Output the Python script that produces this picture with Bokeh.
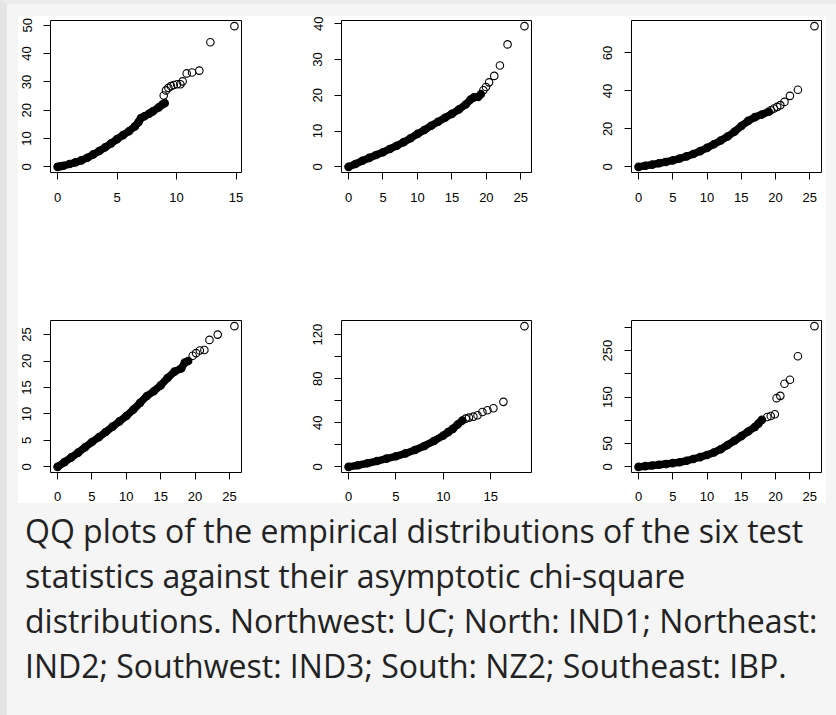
from bokeh.plotting import figure
from bokeh.models import Range1d, FixedTicker, Div, Spacer, GlobalInlineStyleSheet
from bokeh.layouts import row, column
from bokeh.embed import file_html
from bokeh.resources import INLINE

# ---------------- data ----------------
# Northwest: UC
uc_band_x = [0, 0.25, 0.5, 1, 1.5, 2, 2.5, 3, 3.5, 4, 4.5, 5, 5.5, 6, 6.5, 6.8, 7.0, 7.3, 7.7, 8.0, 8.5, 8.8, 9.0]
uc_band_y = [0, 0.2, 0.4, 1.0, 1.6, 2.3, 3.2, 4.4, 5.6, 6.9, 8.3, 9.8, 11.2, 12.6, 14.3, 15.8, 17.2, 17.9, 18.8, 19.6, 21.0, 22.0, 22.5]
uc_tail_x = [8.92, 9.11, 9.31, 9.53, 9.76, 10.04, 10.32, 10.51, 10.85, 11.30, 11.91, 12.84, 14.86]
uc_tail_y = [25.2, 27.0, 27.9, 28.5, 28.9, 29.2, 29.2, 30.2, 33.0, 33.3, 34.0, 44.0, 49.7]

# North: IND1
ind1_band_x = [0, 1, 2, 3, 4, 5, 6, 7, 8, 9, 10, 11, 12, 13, 14, 15, 16, 17, 17.7, 18.2, 18.8, 19.2]
ind1_band_y = [0, 0.8, 1.7, 2.5, 3.3, 4.1, 5.0, 5.9, 6.9, 8.0, 9.2, 10.3, 11.5, 12.6, 13.7, 14.8, 16.0, 17.4, 18.8, 19.4, 19.5, 20.3]
ind1_tail_x = [19.57, 19.95, 20.4, 21.15, 21.97, 23.08, 25.53]
ind1_tail_y = [21.4, 22.3, 23.6, 25.4, 28.3, 34.2, 39.3]

# Northeast: IND2
ind2_band_x = [0, 1, 2, 3, 4, 5, 6, 7, 8, 9, 10, 11, 12, 13, 14, 15, 16, 17, 18, 19]
ind2_band_y = [0, 0.6, 1.2, 1.9, 2.6, 3.4, 4.4, 5.5, 6.8, 8.3, 10.0, 11.9, 13.9, 16.0, 18.5, 21.5, 24.2, 26.2, 27.6, 29.0]
ind2_tail_x = [19.3, 19.77, 20.25, 20.7, 21.3, 22.1, 23.26, 25.68]
ind2_tail_y = [29.8, 30.7, 31.6, 32.5, 34.2, 37.4, 40.6, 74.1]

# Southwest: IND3
ind3_band_x = [0, 1, 2, 3, 4, 5, 6, 7, 8, 9, 10, 11, 12, 13, 14, 15, 16, 17, 18, 18.5, 19.0]
ind3_band_y = [0, 0.9, 1.8, 2.7, 3.7, 4.7, 5.6, 6.6, 7.6, 8.6, 9.6, 10.8, 12.1, 13.4, 14.3, 15.4, 16.8, 18.0, 18.6, 19.7, 20.0]
ind3_tail_x = [19.66, 20.15, 20.7, 21.36, 22.1, 23.3, 25.73]
ind3_tail_y = [21.0, 21.5, 22.0, 22.1, 24.0, 25.0, 26.6]

# South: NZ2
nz2_band_x = [0, 1, 2, 3, 4, 5, 6, 7, 8, 9, 10, 10.5, 11, 11.5, 12]
nz2_band_y = [0, 1.5, 3.3, 5.3, 7.5, 9.6, 12.2, 15.3, 19.0, 23.5, 28.5, 31.5, 34.5, 38.5, 42.0]
nz2_tail_x = [12.36, 12.7, 13.17, 13.6, 14.12, 14.65, 15.28, 16.33, 18.55]
nz2_tail_y = [43.8, 44.7, 45.6, 46.8, 49.8, 51.4, 53.2, 59.0, 127.7]

# Southeast: IBP
ibp_band_x = [0, 1, 2, 3, 4, 5, 6, 7, 8, 9, 10, 11, 12, 13, 14, 15, 16, 17, 17.5, 18]
ibp_band_y = [0, 1.5, 3, 4.5, 6, 8, 10, 13, 17, 21, 25.5, 31, 38, 47, 56, 66, 76, 86, 93, 101]
ibp_tail_x = [18.8, 19.3, 19.9, 20.15, 20.7, 21.3, 22.1, 23.26, 25.68]
ibp_tail_y = [107.3, 109.5, 113, 147.7, 152.7, 178.7, 187.3, 237.7, 302.6]

# tick values and labelled ticks
x_ticks_df1 = [0, 5, 10, 15]
x_ticks_df5 = [0, 5, 10, 15, 20, 25]
uc_y_ticks = [0, 10, 20, 30, 40, 50]
ind1_y_ticks = [0, 10, 20, 30, 40]
ind2_y_ticks = [0, 20, 40, 60]
ind3_y_ticks = [0, 5, 10, 15, 20, 25]
nz2_y_ticks = [0, 20, 40, 60, 80, 100, 120]
nz2_y_labels = [0, 40, 80, 120]
ibp_y_ticks = [0, 50, 100, 150, 200, 250, 300]
ibp_y_labels = [0, 50, 150, 250]

caption_lines = [
    "QQ plots of the empirical distributions of the six test",
    "statistics against their asymptotic chi-square",
    "distributions. Northwest: UC; North: IND1; Northeast:",
    "IND2; Southwest: IND3; South: NZ2; Southeast: IBP.",
]

TICK_FONT = "Liberation Sans"


def r_range(vals):
    lo, hi = min(vals), max(vals)
    d = (hi - lo) * 0.04
    return Range1d(lo - d, hi + d)


def panel(bx, by, tx, ty, xticks, yticks, ylabels, right, fw, bottom, xstand):
    p = figure(frame_width=fw, frame_height=152,
               min_border_left=32, min_border_right=right,
               min_border_top=4, min_border_bottom=bottom,
               x_range=r_range(bx + tx), y_range=r_range(by + ty),
               output_backend="svg", toolbar_location=None)
    p.grid.visible = False
    p.background_fill_color = "white"
    p.border_fill_color = "white"
    p.outline_line_color = "black"
    p.outline_line_width = 1
    p.outline_line_alpha = 1

    p.line(bx, by, line_width=7.5, color="black", line_cap="round", line_join="round")
    p.scatter(bx, by, marker="circle", size=7.5, fill_color=None,
              line_color="black", line_width=1.1)
    p.scatter(tx, ty, marker="circle", size=7.5, fill_color=None,
              line_color="black", line_width=1.1)

    for ax, ticks in ((p.xaxis[0], xticks), (p.yaxis[0], yticks)):
        ax.ticker = FixedTicker(ticks=ticks, minor_ticks=[])
        ax.axis_line_color = None
        ax.major_tick_out = 7
        ax.major_tick_in = 0
        ax.minor_tick_out = 0
        ax.minor_tick_in = 0
        ax.major_tick_line_color = "black"
        ax.major_label_text_font = TICK_FONT
        ax.major_label_text_font_size = "13px"
        ax.major_label_text_color = "black"
        ax.major_label_text_line_height = 1.0
    p.xaxis.major_label_standoff = xstand
    p.yaxis.major_label_standoff = 12
    p.yaxis.major_label_orientation = "vertical"
    if ylabels is not None:
        p.yaxis.major_label_overrides = {float(v): "" for v in yticks if v not in ylabels}
    return p


f1 = panel(uc_band_x, uc_band_y, uc_tail_x, uc_tail_y, x_ticks_df1, uc_y_ticks, None, 68, 191, 144, 13)
f2 = panel(ind1_band_x, ind1_band_y, ind1_tail_x, ind1_tail_y, x_ticks_df5, ind1_y_ticks, None, 68, 190, 144, 13)
f3 = panel(ind2_band_x, ind2_band_y, ind2_tail_x, ind2_tail_y, x_ticks_df5, ind2_y_ticks, None, 5, 190, 144, 13)
f4 = panel(ind3_band_x, ind3_band_y, ind3_tail_x, ind3_tail_y, x_ticks_df5, ind3_y_ticks, None, 68, 191, 30, 12)
f5 = panel(nz2_band_x, nz2_band_y, nz2_tail_x, nz2_tail_y, x_ticks_df1, nz2_y_ticks, nz2_y_labels, 68, 190, 30, 12)
f6 = panel(ibp_band_x, ibp_band_y, ibp_tail_x, ibp_tail_y, x_ticks_df5, ibp_y_ticks, ibp_y_labels, 5, 190, 30, 12)

white_block = column(row(f1, f2, f3), row(f4, f5, f6),
                     styles={"background-color": "white"})

caption = Div(text="<br>".join(caption_lines), width=806,
              styles={"font-family": "'Open Sans', sans-serif", "font-size": "32px",
                      "line-height": "45px", "color": "#222222"})

page_css = GlobalInlineStyleSheet(css=(
    "html{background:#f5f5f5;min-height:100%;box-sizing:border-box;"
    "border-left:7px solid #e4e4e4;border-top:4px solid #ebebeb;}"
    "body{background:#f5f5f5;}"))

layout = column(Spacer(height=12, width=10),
                row(Spacer(width=11, height=10), white_block),
                row(Spacer(width=13, height=10), caption),
                stylesheets=[page_css])

open("out.html", "w").write(file_html(layout, INLINE))
